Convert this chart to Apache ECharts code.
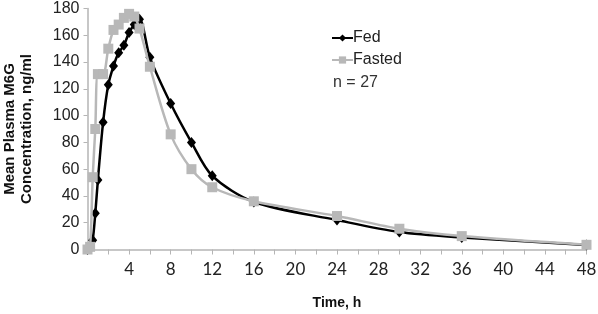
<!DOCTYPE html>
<html>
<head>
<meta charset="utf-8">
<script src="https://cdn.jsdelivr.net/npm/echarts@6/dist/echarts.min.js"></script>
<style>
  html, body { margin: 0; padding: 0; background: #fff; }
  #chart { width: 598px; height: 314px; }
</style>
</head>
<body>
<div id="chart"></div>
<script>
// time points (h) and mean concentrations (ng/ml)
const fedTimes    = [0, 0.25, 0.5, 0.75, 1, 1.5, 2, 2.5, 3, 3.5, 4, 4.5, 5, 6, 8, 10, 12, 16, 24, 30, 36, 48];
const fedValues   = [0, 1, 7, 27, 52, 95, 123, 137, 147, 152.5, 162, 168, 172, 143.5, 109, 80, 55, 35.5, 22, 13, 9, 3.4];
const fastTimes   = [0, 0.25, 0.5, 0.75, 1, 1.5, 2, 2.5, 3, 3.5, 4, 4.5, 5, 6, 8, 10, 12, 16, 24, 30, 36, 48];
const fastValues  = [0, 2, 54, 90, 131, 131, 150, 164, 168, 173, 176, 174, 165, 136.5, 86, 60, 46.5, 36, 25, 15.5, 10, 3.5];
const seriesNames = ['Fed', 'Fasted'];

const font  = 'Liberation Sans, Arial, sans-serif';
const xfont = 'Lato, Liberation Sans, sans-serif';

document.addEventListener('DOMContentLoaded', () => {
    const chart = echarts.init(document.getElementById('chart'));

    const pairs = (ts, vs) => ts.map((t, i) => [t, vs[i]]);

    const option = {
        animation: false,
        textStyle: { fontFamily: font },
        grid: { left: 87.5, right: 11.5, top: 8.5, bottom: 64.5, containLabel: false, outerBoundsMode: 'none' },
        legend: {
            orient: 'vertical',
            left: 326, top: 25,
            itemGap: 6,
            itemWidth: 21, itemHeight: 9,
            data: seriesNames,
            textStyle: { fontFamily: font, fontSize: 16, color: '#222', padding: [0, 0, 0, -5] }
        },
        graphic: [{
            type: 'text', left: 333, top: 75,
            style: { text: 'n = 27', fontFamily: font, fontSize: 16, fill: '#333' }
        }],
        xAxis: {
            type: 'value', min: 0, max: 48, interval: 2,
            name: 'Time, h', nameLocation: 'middle', nameGap: 47,
            nameTextStyle: { fontFamily: font, fontSize: 14, fontWeight: 'bold', color: '#111' },
            axisLine: { lineStyle: { color: '#b5b5b5', width: 1.5 } },
            axisTick: { show: true, length: 5, lineStyle: { color: '#b5b5b5' } },
            axisLabel: {
                fontFamily: xfont, fontSize: 17, color: '#222', margin: 12,
                formatter: v => (v > 0 && v % 4 === 0) ? String(v) : ''
            },
            splitLine: { show: false }
        },
        yAxis: {
            type: 'value', min: 0, max: 180, interval: 20,
            name: 'Mean Plasma M6G\nConcentration, ng/ml', nameLocation: 'middle', nameGap: 52,
            nameTextStyle: { fontFamily: font, fontSize: 15, fontWeight: 'bold', color: '#111', lineHeight: 17 },
            axisLine: { show: true, lineStyle: { color: '#b5b5b5', width: 1.5 } },
            axisTick: { show: true, length: 4, lineStyle: { color: '#b5b5b5' } },
            axisLabel: { fontFamily: font, fontSize: 16, color: '#222', margin: 8 },
            splitLine: { show: false }
        },
        series: [
            {
                name: seriesNames[1], type: 'line', smooth: 0.3,
                data: pairs(fastTimes, fastValues),
                symbol: 'rect', symbolSize: 10,
                itemStyle: { color: '#b8b8b8' },
                lineStyle: { color: '#b8b8b8', width: 2.5 },
                z: 2
            },
            {
                name: seriesNames[0], type: 'line', smooth: 0.3,
                data: pairs(fedTimes, fedValues),
                symbol: 'diamond', symbolSize: [9, 11],
                itemStyle: { color: '#000' },
                lineStyle: { color: '#000', width: 2.5 },
                z: 1
            }
        ]
    };
    chart.setOption(option);
});
</script>
</body>
</html>
